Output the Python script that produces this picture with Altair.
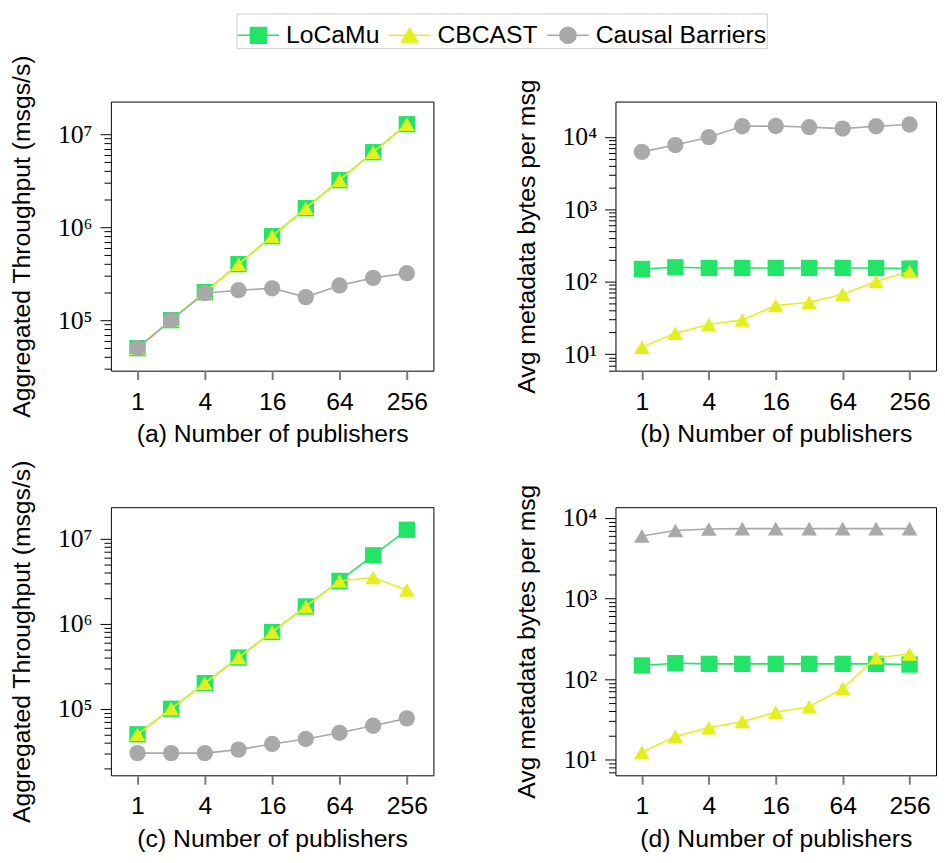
import altair as alt
import pandas as pd

# ---------------- data ----------------
X = [1, 2, 4, 8, 16, 32, 64, 128, 256]
SERIES = ["LoCaMu", "CBCAST", "Causal Barriers"]

A_LOCAMU = [5e4, 1e5, 2e5, 4e5, 8e5, 1.6e6, 3.2e6, 6.4e6, 1.28e7]
A_CBCAST = [5e4, 1e5, 2e5, 4e5, 8e5, 1.6e6, 3.2e6, 6.4e6, 1.28e7]
A_CB = [5e4, 1e5, 1.95e5, 2.1e5, 2.2e5, 1.77e5, 2.36e5, 2.85e5, 3.2e5]

B_LOCAMU = [150, 158, 155, 155, 155, 155, 155, 155, 152]
B_CBCAST = [12.5, 19.4, 25.7, 29.7, 47, 52, 67, 101, 138]
B_CB = [6200, 7700, 9900, 14000, 14100, 13600, 13000, 14000, 14800]

C_LOCAMU = [5e4, 1e5, 2e5, 4e5, 8e5, 1.6e6, 3.2e6, 6.4e6, 1.28e7]
C_CBCAST = [5e4, 1e5, 2e5, 4e5, 8e5, 1.6e6, 3.2e6, 3.5e6, 2.5e6]
C_CB = [3e4, 3e4, 3e4, 3.3e4, 3.85e4, 4.4e4, 5.2e4, 6.3e4, 7.7e4]

D_LOCAMU = [148, 158, 155, 155, 155, 155, 155, 155, 152]
D_CBCAST = [12.4, 19.5, 25, 29.8, 38.8, 45.5, 76.5, 185, 206]
D_CB = [6000, 7000, 7300, 7400, 7400, 7400, 7400, 7400, 7400]

X_TICKS = [1, 4, 16, 64, 256]
POW10 = [10, 100, 1000, 10000, 100000, 1000000, 10000000]
POW10_LABELS = ["10¹", "10²", "10³", "10⁴", "10⁵", "10⁶", "10⁷"]


def log_ticks(lo, hi):
    return [m * 10 ** e for e in range(0, 8) for m in range(1, 10) if lo <= m * 10 ** e <= hi]


# ---------------- style ----------------
COLORS = {"LoCaMu": "#22e466", "CBCAST": "#e3f01e", "Causal Barriers": "#a9a9a9"}
SIZES = {"square": 272, "circle": 272, "triangle-up": 250}
LEG_PATHS = [
    "M-1,0H1M-0.38,-0.38H0.38V0.38H-0.38Z",
    "M-1,0H1M0,-0.34L0.39,0.33H-0.39Z",
    "M-1,0H1M-0.39,0A0.39,0.39 0 1,0 0.39,0A0.39,0.39 0 1,0 -0.39,0Z",
]
SANS = "Liberation Sans"
SERIF = "Liberation Serif"
FS = 25

XDOM = [2 ** -0.79, 2 ** 8.79]

label_expr = ""
for v, l in zip(POW10, POW10_LABELS):
    label_expr += f"datum.value == {v} ? '{l}' : "
label_expr += "''"
major_test = "indexof([" + ",".join(str(v) for v in POW10) + "], datum.value) >= 0"


def make_panel(vals, ydom, yticks, ytitle, xtitle, w, h, markers, legend=False):
    rows = []
    for s, arr in zip(SERIES, vals):
        for xv, yv in zip(X, arr):
            rows.append({"series": s, "x": xv, "y": yv})
    df = pd.DataFrame(rows)
    base = alt.Chart(df)
    x = alt.X(
        "x:Q",
        scale=alt.Scale(type="log", base=2, domain=XDOM, nice=False),
        axis=alt.Axis(
            values=X_TICKS, format="d", title=xtitle, grid=False, domain=False,
            tickColor="#7a7a7a", tickWidth=2, tickSize=9,
            labelFont=SANS, labelFontSize=FS, labelColor="black", labelPadding=10,
            titleFont=SANS, titleFontSize=FS, titleFontWeight="normal", titleColor="black",
            titlePadding=8, labelOverlap=False, titleLimit=1000,
        ),
    )
    y = alt.Y(
        "y:Q",
        scale=alt.Scale(type="log", domain=ydom, nice=False),
        axis=alt.Axis(
            values=yticks, labelExpr=label_expr, title=ytitle, grid=False, domain=False,
            tickColor="black", tickWidth=1,
            tickSize={"condition": {"test": major_test, "value": 11}, "value": 7},
            labelFont=SERIF, labelFontSize=26, labelColor="black", labelPadding=8,
            labelOverlap=False, labelBound=False, labelFlush=False,
            titleFont=SANS, titleFontSize=FS, titleFontWeight="normal", titleColor="black",
            titlePadding=23, titleLimit=1000,
        ),
    )
    layers = []
    for s in SERIES:
        sub = base.transform_filter(alt.datum.series == s)
        layers.append(sub.mark_line(color=COLORS[s], strokeWidth=1.6).encode(x=x, y=y))
        layers.append(
            sub.mark_point(shape=markers[s], filled=True, size=SIZES[markers[s]],
                           color=COLORS[s], opacity=1).encode(x=x, y=y)
        )
    if legend:
        leg_cfg = dict(
            orient="none", legendX=127, legendY=-89, direction="horizontal", title=None,
            labelFont=SANS, labelFontSize=FS, labelColor="black", symbolSize=1764,
            symbolStrokeWidth=1.5, padding=0, strokeColor="#cccccc", cornerRadius=0,
            fillColor="white", columnPadding=6, labelOffset=6, symbolOpacity=1,
            labelLimit=1000,
        )
        cols = [COLORS[s] for s in SERIES]
        layers.append(
            base.transform_filter("false").mark_point(filled=True, opacity=1).encode(
                x=x, y=y,
                fill=alt.Fill("series:N", scale=alt.Scale(domain=SERIES, range=cols),
                              legend=alt.Legend(**leg_cfg)),
                stroke=alt.Stroke("series:N", scale=alt.Scale(domain=SERIES, range=cols),
                                  legend=alt.Legend(**leg_cfg)),
                shape=alt.Shape("series:N", scale=alt.Scale(domain=SERIES, range=LEG_PATHS),
                                legend=alt.Legend(**leg_cfg)),
            )
        )
    return alt.layer(*layers).properties(width=w, height=h)


M_STD = {"LoCaMu": "square", "CBCAST": "triangle-up", "Causal Barriers": "circle"}
M_D = {"LoCaMu": "square", "CBCAST": "triangle-up", "Causal Barriers": "triangle-up"}

pa = make_panel([A_LOCAMU, A_CBCAST, A_CB], [10 ** 4.457, 10 ** 7.351], log_ticks(3e4, 1e7),
                "Aggregated Throughput (msgs/s)", "(a) Number of publishers", 326, 272, M_STD, legend=True)
pb = make_panel([B_LOCAMU, B_CBCAST, B_CB], [10 ** 0.772, 10 ** 4.487], log_ticks(6, 1e4),
                "Avg metadata bytes per msg", "(b) Number of publishers", 324, 272, M_STD)
pc = make_panel([C_LOCAMU, C_CBCAST, C_CB], [10 ** 4.216, 10 ** 7.373], log_ticks(2e4, 1e7),
                "Aggregated Throughput (msgs/s)", "(c) Number of publishers", 326, 271, M_STD)
pd_ = make_panel([D_LOCAMU, D_CBCAST, D_CB], [10 ** 0.807, 10 ** 4.135], log_ticks(7, 1e4),
                 "Avg metadata bytes per msg", "(d) Number of publishers", 324, 271, M_D)

chart = alt.ConcatChart(
    concat=[pa, pb, pc, pd_],
    columns=2,
    spacing={"row": 138, "column": 184},
    bounds="flush",
).properties(
    padding={"left": 1, "top": 0, "right": 0, "bottom": 0},
    background="white",
).configure_view(
    stroke="black", strokeWidth=1
)

chart.save("out.html", embed_options={"renderer": "svg", "actions": False})
